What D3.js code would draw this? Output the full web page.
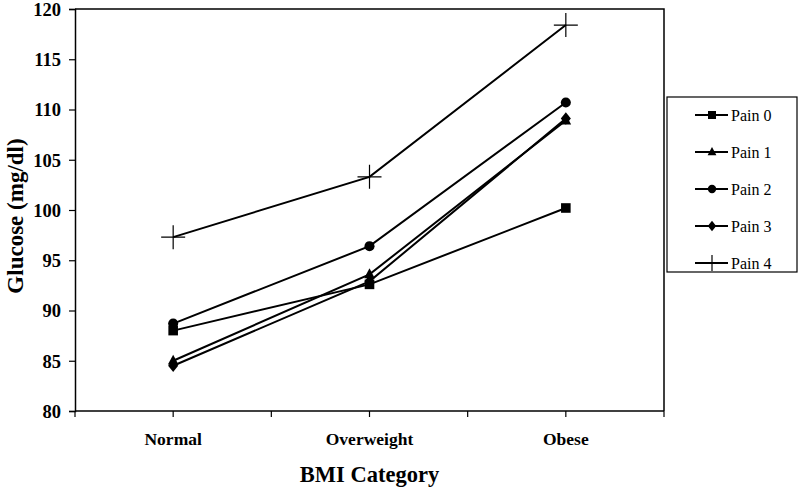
<!DOCTYPE html>
<html>
<head>
<meta charset="utf-8">
<script src="https://cdn.jsdelivr.net/npm/d3@7"></script>
<style>
  body { margin: 0; background: #fff; }
</style>
</head>
<body>
<svg id="chart" width="800" height="487"></svg>
<script>
// BMI categories and glucose means per pain group
const categories = ["Normal", "Overweight", "Obese"];
const pain0 = [88.0, 92.6, 100.2];
const pain1 = [85.0, 93.6, 108.9];
const pain2 = [88.7, 96.4, 110.7];
const pain3 = [84.5, 92.9, 109.1];
const pain4 = [97.3, 103.3, 118.4];
const seriesNames = ["Pain 0", "Pain 1", "Pain 2", "Pain 3", "Pain 4"];
const yTicks = [80, 85, 90, 95, 100, 105, 110, 115, 120];

const FONT = "Times New Roman, Liberation Serif, DejaVu Serif, serif";
const series = [pain0, pain1, pain2, pain3, pain4].map((v, i) => ({ name: seriesNames[i], values: v }));

// marker shapes, r = half size
function markerPath(i, r) {
    if (i === 0) return `M${-r},${-r}H${r}V${r}H${-r}Z`;
    if (i === 1) return `M0,${-r * 1.25}L${r * 1.1},${r * 0.8}H${-r * 1.1}Z`;
    if (i === 2) return d3.symbol().type(d3.symbolCircle).size(Math.PI * r * r * 1.1)();
    if (i === 3) return `M0,${-r * 1.3}L${r * 1.05},0L0,${r * 1.3}L${-r * 1.05},0Z`;
    return null;
}

let margin = { top: 9, right: 136, bottom: 76, left: 75 };
let width = 800 - margin.left - margin.right;
let height = 487 - margin.top - margin.bottom;

let svg = d3.select("#chart").append("g")
    .attr("transform", `translate(${margin.left},${margin.top})`);

let x = d3.scaleBand().domain(categories).range([0, width]);
let y = d3.scaleLinear().domain([80, 120]).range([height, 0]);

// plot frame (top and right)
svg.append("path")
    .attr("d", `M0,0H${width}V${height}`)
    .attr("fill", "none")
    .attr("stroke", "#000")
    .attr("stroke-width", 1.5);

// y axis
let yAxis = svg.append("g")
    .call(d3.axisLeft(y).tickValues(yTicks).tickSize(6).tickPadding(8))
    .attr("font-family", FONT);
yAxis.select(".domain").attr("stroke-width", 1.5);
yAxis.selectAll("line").attr("stroke-width", 1.2);
yAxis.selectAll("text")
    .attr("font-size", 18.5).attr("font-weight", "bold")
    .attr("dy", "0.35em");

// x axis: ticks at band edges and centers
let xAxis = svg.append("g").attr("transform", `translate(0,${height})`);
xAxis.append("line").attr("x1", 0).attr("x2", width)
    .attr("stroke", "#000").attr("stroke-width", 1.5);
let tickPos = [];
categories.forEach(c => { tickPos.push(x(c)); tickPos.push(x(c) + x.bandwidth() / 2); });
tickPos.push(width);
xAxis.selectAll(".tk").data(tickPos).enter().append("line")
    .attr("x1", d => d).attr("x2", d => d).attr("y1", 0).attr("y2", 6)
    .attr("stroke", "#000").attr("stroke-width", 1.2);
xAxis.selectAll(".lbl").data(categories).enter().append("text")
    .attr("x", d => x(d) + x.bandwidth() / 2)
    .attr("y", 34)
    .attr("text-anchor", "middle")
    .attr("font-family", FONT)
    .attr("font-size", 17.5).attr("font-weight", "bold")
    .text(d => d);

// axis titles
svg.append("text")
    .attr("x", width / 2).attr("y", height + 71)
    .attr("text-anchor", "middle")
    .attr("font-family", FONT)
    .attr("font-size", 22.5).attr("font-weight", "bold")
    .text("BMI Category");
svg.append("text")
    .attr("transform", `translate(-60,${height / 2 + 6}) rotate(-90)`)
    .attr("dy", "0.35em")
    .attr("text-anchor", "middle")
    .attr("font-family", FONT)
    .attr("font-size", 23).attr("font-weight", "bold")
    .text("Glucose (mg/dl)");

let cx = d => x(d) + x.bandwidth() / 2;
let line = d3.line().x((d, i) => cx(categories[i])).y(d => y(d));

function drawMarker(g, i, r, cross) {
    let p = markerPath(i, r);
    if (p) {
        g.append("path").attr("d", p).attr("fill", "#000");
    } else {
        g.append("path").attr("d", `M${-cross},0H${cross}M0,${-cross}V${cross}`)
            .attr("stroke", "#000").attr("stroke-width", 1.2);
    }
}

series.forEach((s, i) => {
    svg.append("path")
        .datum(s.values)
        .attr("d", line)
        .attr("fill", "none")
        .attr("stroke", "#000")
        .attr("stroke-width", 2);
    s.values.forEach((v, j) => {
        let g = svg.append("g").attr("transform", `translate(${cx(categories[j])},${y(v)})`);
        drawMarker(g, i, 4.8, 12);
    });
});

// legend
let legend = d3.select("#chart").append("g").attr("transform", "translate(667,97)");
legend.append("rect").attr("width", 130).attr("height", 175)
    .attr("fill", "#fff").attr("stroke", "#000").attr("stroke-width", 1.2);
seriesNames.forEach((n, i) => {
    let g = legend.append("g").attr("transform", `translate(0,${18 + i * 37})`);
    g.append("line").attr("x1", 28).attr("x2", 61).attr("stroke", "#000").attr("stroke-width", 2);
    let m = g.append("g").attr("transform", "translate(45,0)");
    let p = markerPath(i, 4);
    if (p) {
        m.append("path").attr("d", p).attr("fill", "#000");
    } else {
        m.append("path").attr("d", "M0,-8V8").attr("stroke", "#000").attr("stroke-width", 1.2);
    }
    g.append("text").attr("x", 64).attr("dy", "0.35em")
        .attr("font-family", FONT)
        .attr("font-size", 16).text(n);
});
</script>
</body>
</html>
